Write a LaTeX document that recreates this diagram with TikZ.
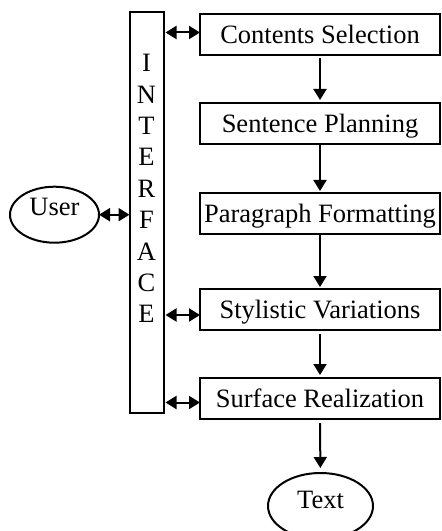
\documentclass[tikz,border=0pt]{standalone}
\usepackage{fontspec}
\setmainfont{Liberation Serif}
\usetikzlibrary{arrows.meta,shapes.geometric}
\begin{document}
\begin{tikzpicture}[x=1bp,y=-1bp,
  every node/.style={font=\fontsize{26.5bp}{30bp}\selectfont, inner sep=0pt, outer sep=0pt},
  stage/.style={draw, line width=2bp, minimum width=240bp, minimum height=41bp,
                text height=17.4bp, text depth=0pt},
  panel/.style={draw, line width=2bp, minimum width=34.5bp, minimum height=401bp},
  letter/.style={text height=17.4bp, text depth=0pt},
  term/.style={draw, ellipse, line width=2bp, text height=17.4bp},
  tip/.tip={Triangle[length=11bp,width=13bp]},
  flow/.style={line width=2bp, -tip},
  both/.style={line width=2bp, tip-tip}]
\useasboundingbox (0,0) rectangle (442,531);

% interface column
\node[panel] (iface) at (146.75,212.5) {};
\foreach \L [count=\i] in {I,N,T,E,R,F,A,C,E}
  \node[letter] (ch\i) at (146.5,{63+31.4*(\i-1)}) {\L};

% generation stages
\node[stage] (cs) at (320,34.5)  {Contents Selection};
\node[stage] (sp) at (320,123.5) {Sentence Planning};
\node[stage] (pf) at (320,213.5) {Paragraph Formatting};
\node[stage] (sv) at (320,309.5) {Stylistic Variations};
\node[stage] (sr) at (320,398.5) {Surface Realization};

% end points
\node[term, minimum width=89bp, minimum height=56bp, text depth=16bp] (user) at (54.5,214.7) {User};
\node[term, minimum width=105bp, minimum height=66bp, text depth=12bp] (text) at (320.5,506) {Text};

% pipeline
\draw[flow, shorten <=3bp, shorten >=3bp] (cs) -- (sp);
\draw[flow, shorten >=2bp] (sp) -- (pf);
\draw[flow, shorten >=2bp] (pf) -- (sv);
\draw[flow, shorten <=4bp, shorten >=3bp] (sv) -- (sr);
\draw[flow, shorten <=4bp, shorten >=5bp] (sr) -- (text);

% links with the interface
\coordinate (a1) at ([yshift=2bp]cs.west);
\coordinate (a2) at ([yshift=-5.5bp]sv.west);
\coordinate (a3) at ([yshift=-4bp]sr.west);
\draw[both, shorten <=1.5bp] (a1 -| iface.east) -- (a1);
\draw[both, shorten <=1.5bp] (a2 -| iface.east) -- (a2);
\draw[both, shorten <=1.5bp] (a3 -| iface.east) -- (a3);
\draw[both] (user.east) -- (user.east -| iface.west);
\end{tikzpicture}
\end{document}
